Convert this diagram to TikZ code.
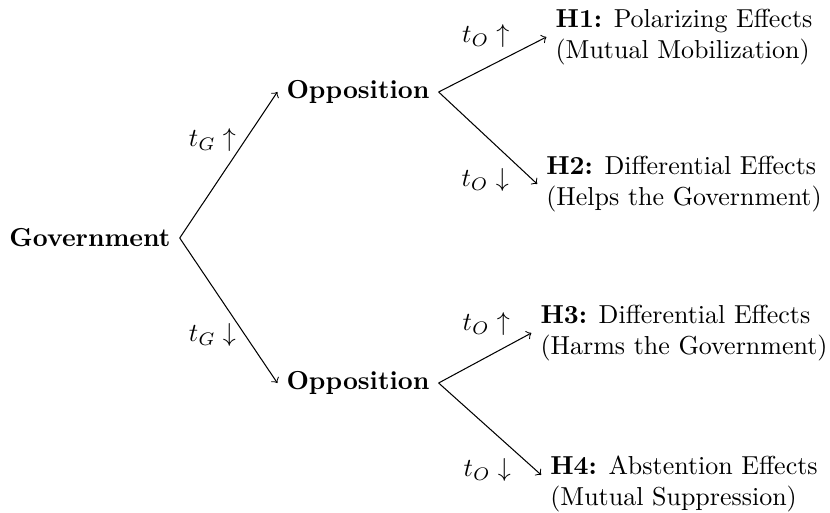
\documentclass[tikz,border=0pt]{standalone}
\usepackage{amsmath,amssymb}
\usepackage{tikz}

\begin{document}
\begin{tikzpicture}[
    x=0.385pt, y=-0.385pt,
    actornode/.style={font=\bfseries},
    hypnode/.style={align=left},
    olabel/.style={inner sep=2pt},
    arrow/.style={->}
]
    \useasboundingbox (0,0) rectangle (830,512);
    % Nodes
    \node (gov) [actornode] at (90,238) {Government};
    \node (oppup) [actornode] at (358,92) {Opposition};
    \node (oppdown) [actornode] at (358,383) {Opposition};
    \node (hone) [hypnode] at (684,37) {\textbf{H1:} Polarizing Effects\\(Mutual Mobilization)};
    \node (htwo) [hypnode] at (684,184) {\textbf{H2:} Differential Effects\\(Helps the Government)};
    \node (hthree) [hypnode] at (684,333) {\textbf{H3:} Differential Effects\\(Harms the Government)};
    \node (hfour) [hypnode] at (684,484) {\textbf{H4:} Abstention Effects\\(Mutual Suppression)};

    % Flows
    \draw [arrow] (gov.east) -- node[pos=0.67, left] {$t_G \uparrow$} (oppup.west);
    \draw [arrow] (gov.east) -- node[pos=0.67, left] {$t_G \downarrow$} (oppdown.west);
    \draw [arrow] (oppup.east) -- node[olabel, pos=0.71, above left] {$t_O \uparrow$} (hone.west);
    \draw [arrow] (oppup.east) -- node[olabel, pos=0.77, below left] {$t_O \downarrow$} (htwo.west);
    \draw [arrow] (oppdown.east) -- node[olabel, pos=0.83, above left] {$t_O \uparrow$} (hthree.west);
    \draw [arrow] (oppdown.east) -- node[olabel, pos=0.76, below left] {$t_O \downarrow$} ([yshift=3.5pt]hfour.west);

\end{tikzpicture}
\end{document}
